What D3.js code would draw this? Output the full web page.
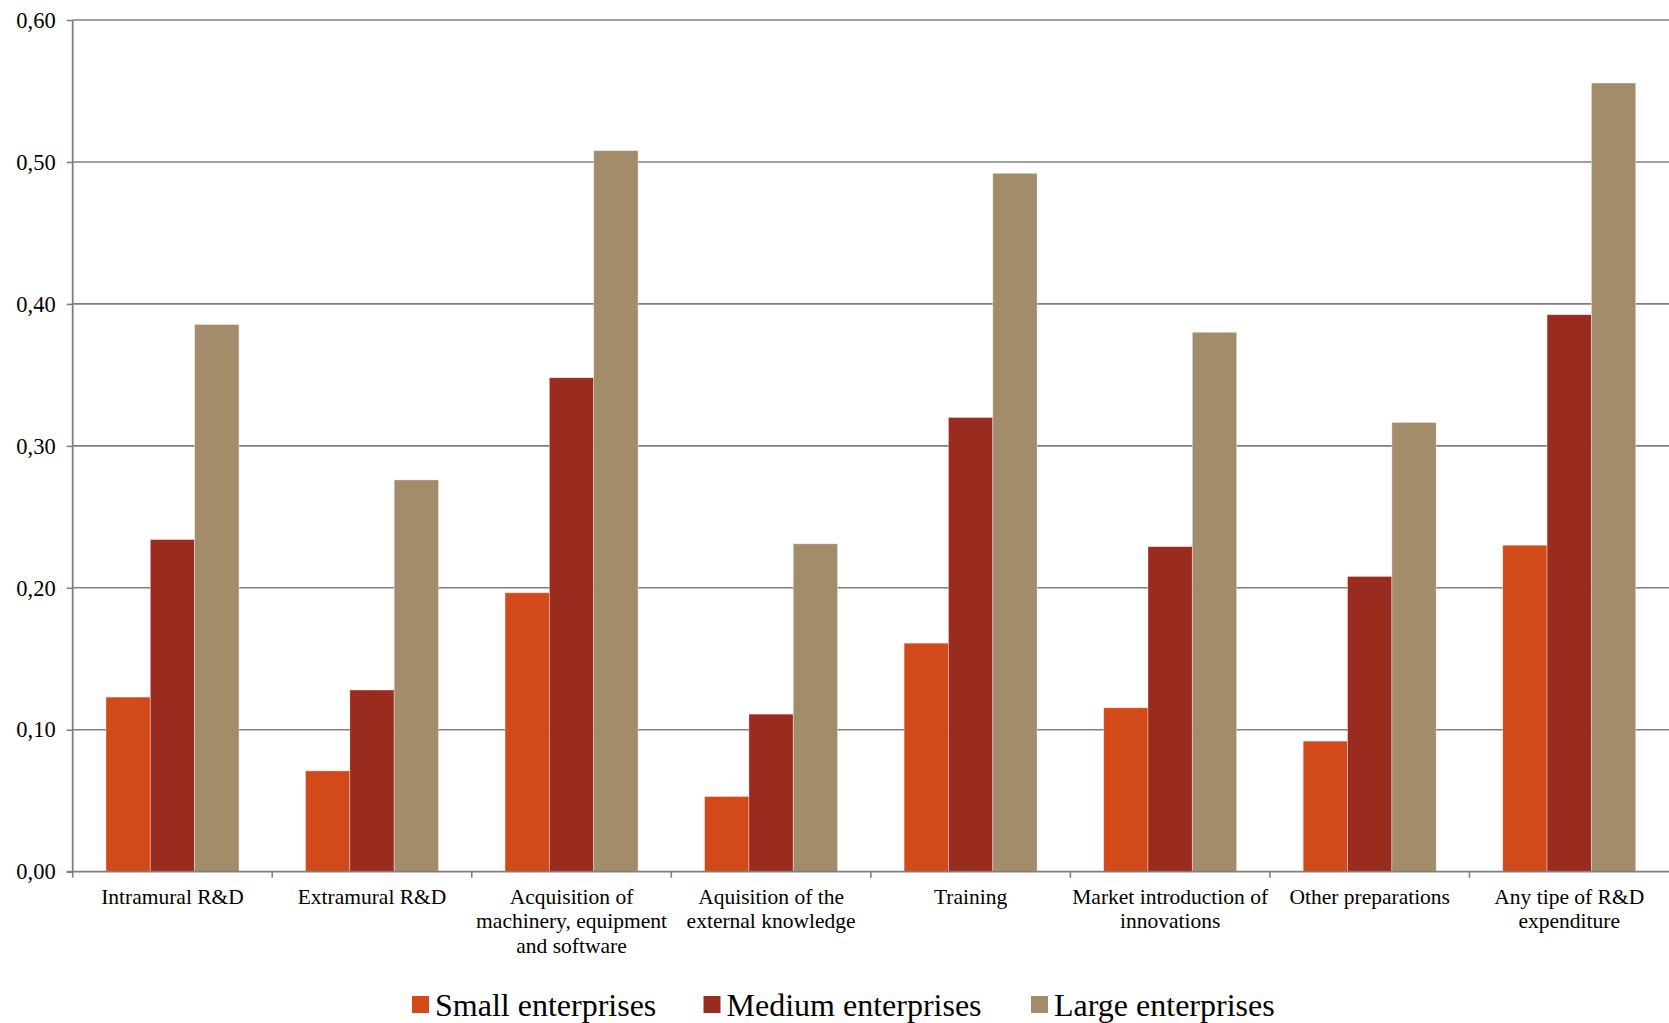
<!DOCTYPE html>
<html><head><meta charset="utf-8">
<script src="https://cdn.jsdelivr.net/npm/d3@7"></script>
<style>
html,body{margin:0;padding:0;background:#fff;}
svg{display:block;font-family:"Liberation Serif","Times New Roman",serif;}
</style></head>
<body>
<svg id="chart" width="1669" height="1023"></svg>
<script>
const categories = [
  "Intramural R&D",
  "Extramural R&D",
  "Acquisition of\nmachinery, equipment\nand software",
  "Aquisition of the\nexternal knowledge",
  "Training",
  "Market introduction of\ninnovations",
  "Other preparations",
  "Any tipe of R&D\nexpenditure"
];
const seriesNames = ["Small enterprises", "Medium enterprises", "Large enterprises"];
const small  = [0.123, 0.071, 0.1965, 0.053, 0.161, 0.1155, 0.092, 0.230];
const medium = [0.234, 0.128, 0.348, 0.111, 0.320, 0.229, 0.208, 0.3924];
const large  = [0.3855, 0.276, 0.508, 0.231, 0.492, 0.380, 0.3165, 0.5556];
const yTicks = [0, 0.1, 0.2, 0.3, 0.4, 0.5, 0.6];
const colors = ["#D24A19", "#992B1F", "#A38C6A"];

(function () {
const seriesValues = [small, medium, large];
const svg = d3.select("#chart");
const mLeft = 72.7, mRight = 1669, mTop = 20, mBottom = 871.7;

const x0 = d3.scaleBand().domain(categories).range([mLeft, mRight]).padding(0);
const x1 = d3.scaleBand().domain(seriesNames).range([0, x0.bandwidth()]).paddingInner(0).paddingOuter(0.75);
const y = d3.scaleLinear().domain([0, 0.6]).range([mBottom, mTop]);
const fmt = v => d3.format(".2f")(v).replace(".", ",");

// gridlines
svg.append("g").selectAll("line").data(yTicks.filter(d => d > 0)).join("line")
  .attr("x1", mLeft).attr("x2", mRight)
  .attr("y1", d => y(d)).attr("y2", d => y(d))
  .attr("stroke", "#7f7f7f").attr("stroke-width", 1.6);

// bars
const groups = svg.append("g").selectAll("g").data(categories).join("g")
  .attr("transform", d => `translate(${x0(d)},0)`);
groups.selectAll("rect").data((c, i) => seriesNames.map((s, j) => ({s, j, v: seriesValues[j][i]})))
  .join("rect")
  .attr("x", d => x1(d.s)).attr("width", x1.bandwidth())
  .attr("y", d => y(d.v)).attr("height", d => y(0) - y(d.v))
  .attr("fill", d => colors[d.j])
  .attr("stroke", "rgba(255,255,255,0.45)").attr("stroke-width", 0.8);

// y axis
const yAxis = svg.append("g").attr("transform", `translate(${mLeft},0)`)
  .call(d3.axisLeft(y).tickValues(yTicks).tickFormat(fmt).tickSize(6).tickPadding(11));
yAxis.select(".domain").attr("stroke", "#7f7f7f").attr("stroke-width", 1.8).attr("d", `M0,${mTop}V${mBottom}`);
yAxis.selectAll(".tick line").attr("stroke", "#7f7f7f").attr("stroke-width", 1.6);
yAxis.selectAll("text").attr("font-size", 22.5).attr("fill", "#000")
  .attr("font-family", "'Liberation Serif','Times New Roman',serif").attr("dy", "0.32em");

// x axis
const xAxis = svg.append("g").attr("transform", `translate(0,${mBottom})`)
  .call(d3.axisBottom(x0).tickSize(0).tickFormat(""));
xAxis.select(".domain").attr("stroke", "#7f7f7f").attr("stroke-width", 1.8).attr("d", `M${mLeft-6},0H${mRight}`);
const bounds = categories.map(c => x0(c));
svg.append("g").selectAll("line").data(bounds).join("line")
  .attr("x1", d => d).attr("x2", d => d).attr("y1", mBottom).attr("y2", mBottom + 6)
  .attr("stroke", "#7f7f7f").attr("stroke-width", 1.6);
const lab = svg.append("g").selectAll("text").data(categories).join("text")
  .attr("text-anchor", "middle").attr("font-size", 21.5).attr("fill", "#000")
  .attr("transform", d => `translate(${x0(d) + x0.bandwidth()/2},${mBottom + 32})`);
lab.selectAll("tspan").data(d => d.split("\n")).join("tspan")
  .attr("x", 0).attr("dy", (d, i) => i === 0 ? 0 : 24.5).text(d => d);

// legend
const legendX = [412, 703.5, 1031];
const leg = svg.append("g").selectAll("g").data(seriesNames).join("g")
  .attr("transform", (d, i) => `translate(${legendX[i]},1005)`);
leg.append("rect").attr("x", 0).attr("y", -9).attr("width", 17).attr("height", 17)
  .attr("fill", (d, i) => colors[i]);
leg.append("text").attr("x", 23).attr("y", 0).attr("dy", "0.35em")
  .attr("font-size", 32).attr("fill", "#000").text(d => d);
})();
</script>
</body></html>
